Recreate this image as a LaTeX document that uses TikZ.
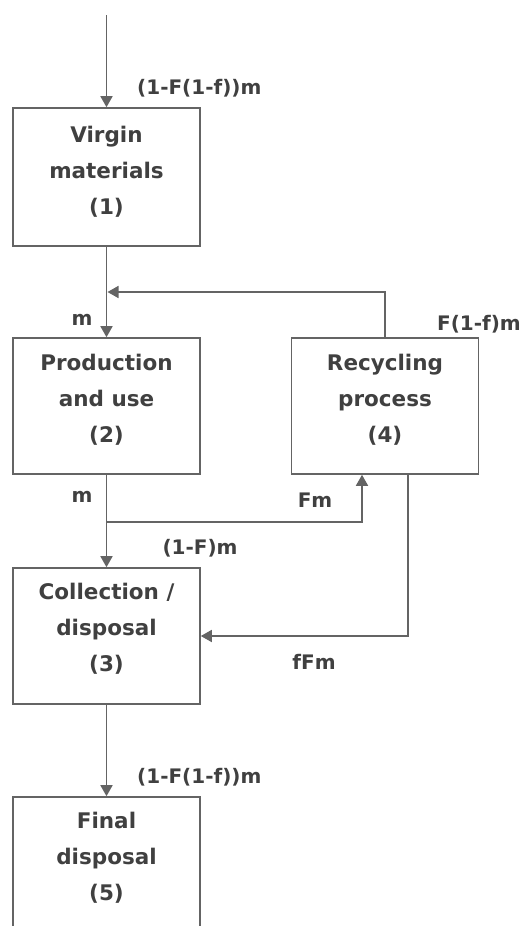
\documentclass[tikz,border=0pt]{standalone}
\usepackage{fontspec}
\setmainfont{DejaVu Sans}
\usetikzlibrary{arrows.meta,calc}
\definecolor{linegray}{HTML}{646464}
\definecolor{textgray}{HTML}{404040}
\begin{document}
\begin{tikzpicture}[x=1pt,y=-1pt,
  box/.style={draw=linegray, line width=1.6pt, minimum width=187pt,
    minimum height=136pt, inner sep=0pt},
  boxtext/.style={text=textgray, font=\bfseries\fontsize{21.5}{36}\selectfont,
    align=center, inner sep=0pt},
  flowlabel/.style={text=textgray, font=\bfseries\fontsize{20}{24}\selectfont,
    inner sep=0pt},
  link/.style={draw=linegray, line width=1.6pt},
  flow/.style={link, -{Triangle[length=11pt,width=12pt]}}]
\path[use as bounding box] (0,0) rectangle (523,926);
\clip (0,0) rectangle (523,926);

% process boxes
\node[box, minimum height=138pt] (vm) at (106.5,177) {};
\node[box] (pu) at (106.5,406) {};
\node[box] (rp) at (385,406) {};
\node[box] (cd) at (106.5,636) {};
\node[box, minimum height=150pt] (fd) at (106.5,872) {};

% box captions
\node[boxtext] (vmt) at (106.5,172) {Virgin\\materials\\(1)};
\node[boxtext] (put) at (106.5,400) {Production\\and use\\(2)};
\node[boxtext] (rpt) at (385,400) {Recycling\\process\\(4)};
\node[boxtext] (cdt) at (106.5,629) {Collection /\\disposal\\(3)};
\node[boxtext] (fdt) at (106.5,858) {Final\\disposal\\(5)};

% junctions
\coordinate (src) at (106.5,15);
\coordinate (jn) at (106.5,292);
\coordinate (sp) at (106.5,522);

% flows
\draw[flow] (src) -- (vm.north);
\draw[link] (vm.south) -- (jn);
\draw[flow] (jn) -- (pu.north);
\draw[flow] (rp.north) |- ([xshift=1pt]jn);
\draw[link] (pu.south) -- (sp);
\draw[flow] (sp) -- (cd.north);
\draw[flow] (sp) -| ([xshift=-23pt]rp.south);
\draw[flow] ([xshift=23pt]rp.south) |- (cd.east);
\draw[flow] (cd.south) -- (fd.north);

% flow labels
\node[flowlabel, anchor=west] (l1) at (137,88) {(1-F(1-f))m};
\node[flowlabel] (l2) at (82,320) {m};
\node[flowlabel, anchor=east] (l3) at (521,324) {F(1-f)m};
\node[flowlabel] (l4) at (82,497) {m};
\node[flowlabel] (l5) at (315,500) {Fm};
\node[flowlabel] (l6) at (200,548) {(1-F)m};
\node[flowlabel] (l7) at (314,662) {fFm};
\node[flowlabel, anchor=west] (l8) at (137,777) {(1-F(1-f))m};
\end{tikzpicture}
\end{document}
